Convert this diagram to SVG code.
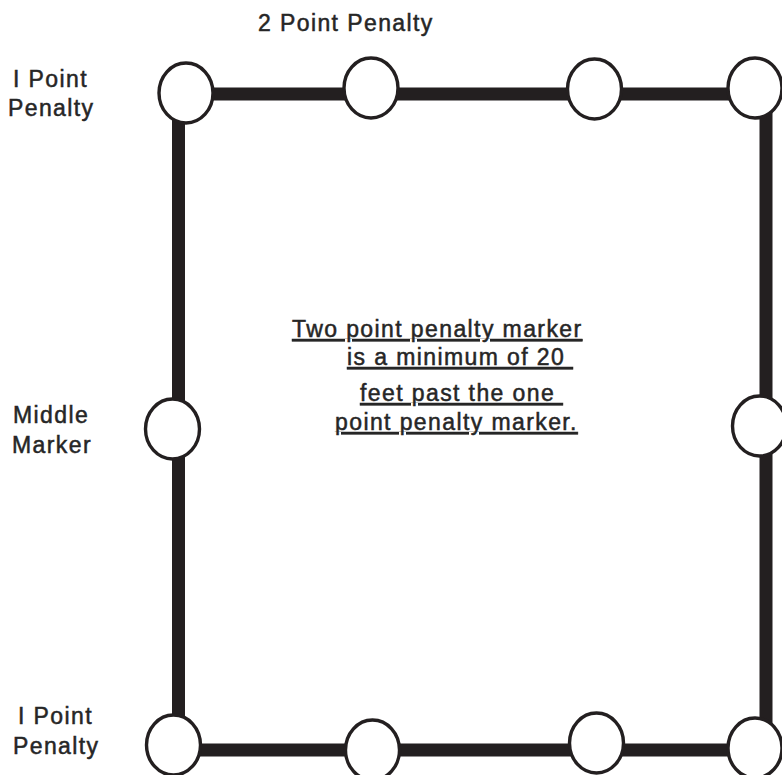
<svg xmlns="http://www.w3.org/2000/svg" width="782" height="775" viewBox="0 0 782 775">
  <style>
    .lbl { font-family: "Liberation Sans", Arial, sans-serif; font-size: 23px; letter-spacing: 1.4px; fill: #262626; stroke: #262626; stroke-width: 0.5px; }
    .note { text-decoration: underline; white-space: pre; }
    .edge { stroke: #231f20; stroke-width: 13; fill: none; }
    .mk { fill: #ffffff; stroke: #231f20; stroke-width: 3.4; }
  </style>
  <rect width="782" height="775" fill="#ffffff"/>
  <g id="connectors">
    <line class="edge" x1="186" y1="94" x2="755" y2="94"/>
    <line class="edge" x1="178.5" y1="93" x2="178.5" y2="745"/>
    <line class="edge" x1="766" y1="88" x2="766" y2="748"/>
    <line class="edge" x1="173" y1="750" x2="755" y2="750"/>
  </g>
  <g id="marker-top-1"><ellipse class="mk" cx="186" cy="93" rx="27" ry="30"/></g>
  <g id="marker-top-2"><ellipse class="mk" cx="371" cy="88" rx="27" ry="30"/></g>
  <g id="marker-top-3"><ellipse class="mk" cx="594.5" cy="89" rx="27" ry="30"/></g>
  <g id="marker-top-4"><ellipse class="mk" cx="755" cy="88" rx="27" ry="30"/></g>
  <g id="marker-middle-left"><ellipse class="mk" cx="172.5" cy="429" rx="27" ry="30"/></g>
  <g id="marker-middle-right"><ellipse class="mk" cx="759.5" cy="426" rx="27" ry="30"/></g>
  <g id="marker-bottom-1"><ellipse class="mk" cx="173.5" cy="745" rx="27" ry="30"/></g>
  <g id="marker-bottom-2"><ellipse class="mk" cx="372.5" cy="750" rx="27" ry="30"/></g>
  <g id="marker-bottom-3"><ellipse class="mk" cx="596.5" cy="743" rx="27" ry="30"/></g>
  <g id="marker-bottom-4"><ellipse class="mk" cx="755" cy="748" rx="27" ry="30"/></g>
  <g id="labels">
    <text class="lbl" x="258" y="31">2 Point Penalty</text>
    <text class="lbl" x="13" y="87">I Point</text>
    <text class="lbl" x="8" y="116">Penalty</text>
    <text class="lbl" x="13" y="423">Middle</text>
    <text class="lbl" x="12" y="453">Marker</text>
    <text class="lbl" x="18" y="724">I Point</text>
    <text class="lbl" x="13" y="754">Penalty</text>
  </g>
  <g id="note">
    <text class="lbl note" x="292" y="337" xml:space="preserve">Two point penalty marker</text>
    <text class="lbl note" x="347" y="365" xml:space="preserve">is a minimum of 20 </text>
    <text class="lbl note" x="360" y="401" xml:space="preserve">feet past the one </text>
    <text class="lbl note" x="335" y="430" xml:space="preserve">point penalty marker.</text>
  </g>
</svg>
